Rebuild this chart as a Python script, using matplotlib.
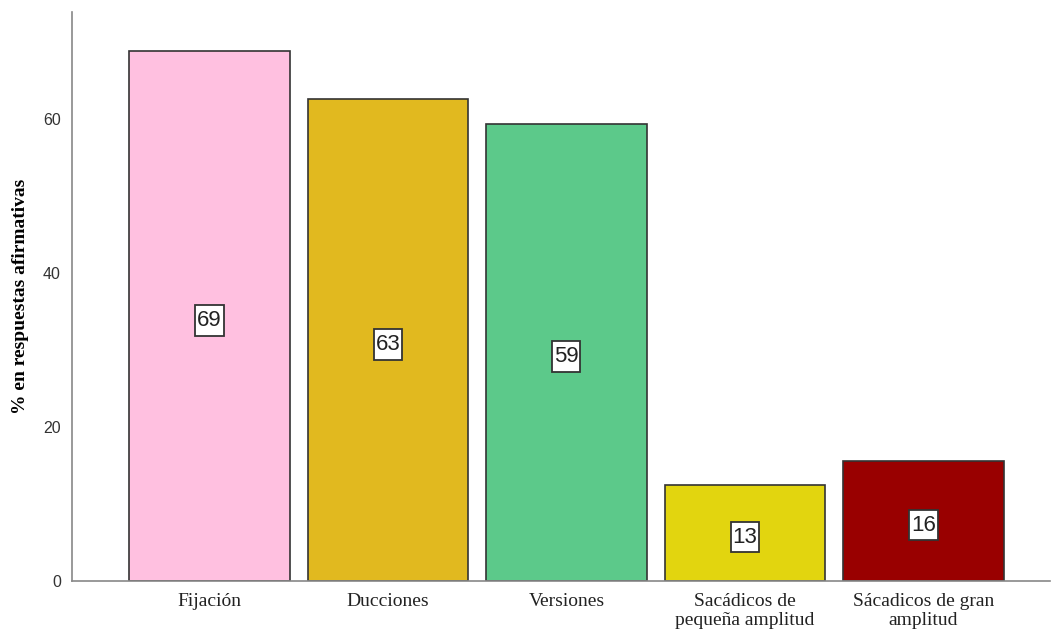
import matplotlib
matplotlib.use("Agg")
import matplotlib.pyplot as plt
from matplotlib.path import Path

categories = ["Fijación", "Ducciones", "Versiones",
              "Sacádicos de\npequeña amplitud", "Sácadicos de gran\namplitud"]
values = [68.8, 62.6, 59.4, 12.5, 15.6]
labels = ["69", "63", "59", "13", "16"]
colors = ["#FFC0E0", "#E1B91F", "#5CC98A", "#E2D50F", "#990000"]
yticks = [0, 20, 40, 60]


def tall_box(x0, y0, width, height, mutation_size):
    px = 0.08 * mutation_size
    py = 0.22 * mutation_size
    x0, y0 = x0 - px, y0 - py
    x1, y1 = x0 + width + 2 * px, y0 + height + 2 * py
    return Path([(x0, y0), (x1, y0), (x1, y1), (x0, y1), (x0, y0)], closed=True)


fig = plt.figure(figsize=(10.53, 6.32), dpi=100)
ax = fig.add_axes([72/1053, 1 - 581/632, (1050-72)/1053, (581-12)/632])

x = list(range(len(categories)))
ax.bar(x, values, width=0.9, color=colors, edgecolor="#333333", linewidth=1.2, zorder=2)
for xi, v, lab in zip(x, values, labels):
    ax.annotate(lab, (xi, v / 2), xytext=(0, -3), textcoords="offset points",
                ha="center", va="center", fontsize=16,
                family="Liberation Sans", color="#222222",
                bbox=dict(boxstyle=tall_box, fc="white", ec="#333333", lw=1.3))

ax.set_xlim(-0.77, 4.71)
ax.set_ylim(0, 73.9)
ax.set_yticks(yticks)
ax.set_yticklabels([str(t) for t in yticks], family="Liberation Sans", fontsize=11.5, color="#333333")
ax.set_xticks(x)
ax.set_xticklabels(categories, family="Liberation Serif", fontsize=14, color="#222222", linespacing=1.15)
ax.tick_params(axis="x", length=0, pad=9)
ax.tick_params(axis="y", length=0, pad=8)
ax.set_ylabel("% en respuestas afirmativas", family="Liberation Serif", fontweight="bold",
              fontsize=14, labelpad=10)
for s in ["top", "right"]:
    ax.spines[s].set_visible(False)
for s in ["left", "bottom"]:
    ax.spines[s].set_color("#888888")
    ax.spines[s].set_linewidth(1.2)

fig.savefig("out.png", dpi=100, facecolor="white")
